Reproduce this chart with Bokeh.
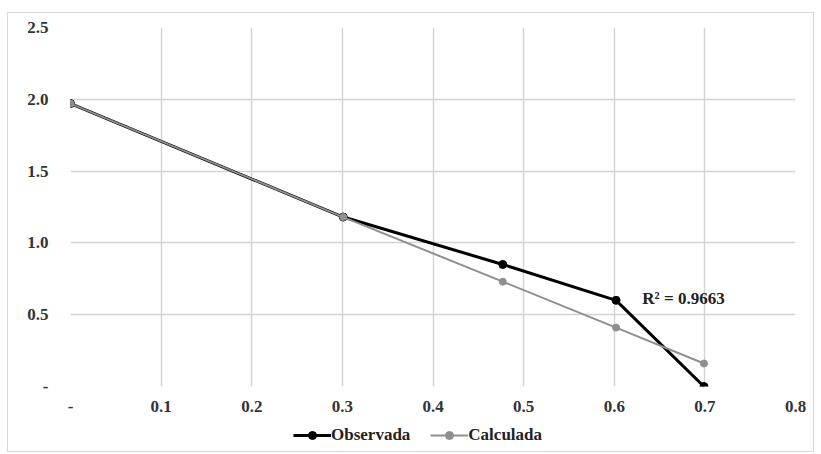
from bokeh.plotting import figure
from bokeh.layouts import column
from bokeh.models import FixedTicker, Range1d, Legend, LegendItem, Label
from bokeh.embed import file_html
from bokeh.resources import INLINE

x_vals = [0.0, 0.301, 0.477, 0.602, 0.699]
observada = [1.97, 1.18, 0.85, 0.60, 0.0]
calculada = [1.97, 1.18, 0.73, 0.41, 0.16]
x_ticks = [0, 0.1, 0.2, 0.3, 0.4, 0.5, 0.6, 0.7, 0.8]
x_tick_labels = ["-", "0.1", "0.2", "0.3", "0.4", "0.5", "0.6", "0.7", "0.8"]
y_ticks = [0, 0.5, 1.0, 1.5, 2.0, 2.5]
y_tick_labels = ["-", "0.5", "1.0", "1.5", "2.0", "2.5"]
series_names = ["Observada", "Calculada"]
r2_text = "R² = 0.9663"

FONT = "Liberation Serif"
BLACK = "black"
GRAY = "#8f8f8f"

p = figure(width=805, height=402, output_backend="svg", toolbar_location=None,
           x_range=Range1d(0, 0.8), y_range=Range1d(0, 2.5),
           min_border_left=62, min_border_right=18, min_border_top=14, min_border_bottom=29)
p.outline_line_color = None
p.background_fill_color = "white"

for ax, ticks, labels in [(p.xaxis[0], x_ticks, x_tick_labels), (p.yaxis[0], y_ticks, y_tick_labels)]:
    ax.ticker = FixedTicker(ticks=ticks)
    ax.major_label_overrides = {t: l for t, l in zip(ticks, labels)}
    ax.major_tick_line_color = None
    ax.minor_tick_line_color = None
    ax.axis_line_color = None
    ax.major_label_text_font = FONT
    ax.major_label_text_font_style = "bold"
    ax.major_label_text_font_size = "17px"
    ax.major_label_text_color = "#333333"
p.xaxis[0].major_label_standoff = 8
p.yaxis[0].major_label_standoff = 16

p.xgrid.ticker = FixedTicker(ticks=x_ticks)
p.ygrid.ticker = FixedTicker(ticks=y_ticks)
p.xgrid.grid_line_color = "#d4d4d4"
p.ygrid.grid_line_color = "#d4d4d4"
p.xgrid.grid_line_width = 1.5
p.ygrid.grid_line_width = 1.5

series = [(series_names[0], observada, BLACK, 3, 8), (series_names[1], calculada, GRAY, 2, 7)]
for name, vals, col, lw, sz in series:
    p.line(x_vals, vals, line_color=col, line_width=lw)
    p.scatter(x_vals, vals, size=sz, color=col)

p.add_layout(Label(x=0.631, y=0.613, text=r2_text, text_font=FONT, text_font_style="bold",
                   text_font_size="17px", text_color="#222222", text_baseline="middle"))

# legend strip below the chart (its own renderers sit outside its visible range)
lf = figure(width=805, height=36, output_backend="svg", toolbar_location=None,
            x_range=Range1d(10, 11), y_range=Range1d(10, 11), min_border=0,
            x_axis_location=None, y_axis_location=None)
lf.grid.visible = False
lf.outline_line_color = None
items = []
for name, vals, col, lw, sz in series:
    r1 = lf.line(x_vals, vals, line_color=col, line_width=lw)
    r2 = lf.scatter(x_vals, vals, size=sz, color=col)
    items.append(LegendItem(label=name, renderers=[r1, r2]))
legend = Legend(items=items, orientation="horizontal", location=(223, 6),
                label_text_font=FONT, label_text_font_style="bold",
                label_text_font_size="17px", label_text_color="#222222",
                border_line_color=None, background_fill_alpha=0,
                glyph_width=38, spacing=20, padding=0, margin=0, label_standoff=0)
lf.add_layout(legend)

layout = column(p, lf, spacing=0)
layout.margin = (12, 0, 0, 7)
layout.styles = {"border": "1px solid #d9d9d9"}

open("out.html", "w").write(file_html(layout, INLINE))
